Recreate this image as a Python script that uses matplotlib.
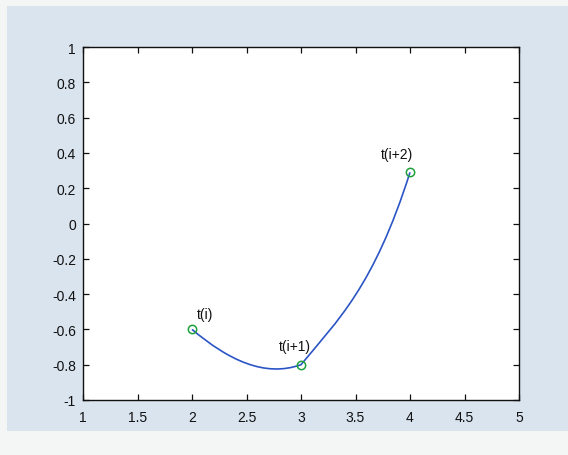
import matplotlib
matplotlib.use("Agg")
import matplotlib.pyplot as plt
from matplotlib.path import Path
from matplotlib.patches import PathPatch, Rectangle
from matplotlib.ticker import FuncFormatter, MultipleLocator

# Knots of the curve and the tangent slopes at each end of every segment
knot_x = [2.0, 3.0, 4.0]
knot_y = [-0.6, -0.8, 0.29]
slope_start = [-0.52, 0.75]   # slope leaving knot k into segment k
slope_end = [0.22, 1.95]      # slope arriving at knot k+1 from segment k
knot_labels = ["t(i)", "t(i+1)", "t(i+2)"]
label_x = [2.115, 2.945, 3.877]
label_y = [-0.51, -0.695, 0.395]

x_limits = (1, 5)
y_limits = (-1, 1)

plt.rcParams["font.family"] = ["Liberation Sans", "DejaVu Sans"]

fig = plt.figure(figsize=(5.68, 4.56), dpi=100, facecolor="#d9e4ef")
# paper margins around the figure window
paper = "#f4f6f6"
fig.patches.append(Rectangle((0, 0), 1, 24 / 456, transform=fig.transFigure,
                             facecolor=paper, edgecolor="none", zorder=0))
fig.patches.append(Rectangle((0, 0), 7 / 568, 1, transform=fig.transFigure,
                             facecolor=paper, edgecolor="none", zorder=0))
fig.patches.append(Rectangle((0, 1 - 7 / 456), 1, 7 / 456, transform=fig.transFigure,
                             facecolor=paper, edgecolor="none", zorder=0))

ax = fig.add_axes([83 / 568, 1 - 401 / 456, 436 / 568, 353 / 456])
ax.set_facecolor("white")

# Piecewise cubic curve built as Bezier segments in data coordinates
verts = [(knot_x[0], knot_y[0])]
codes = [Path.MOVETO]
for k in range(len(knot_x) - 1):
    h = knot_x[k + 1] - knot_x[k]
    c1 = (knot_x[k] + h / 3, knot_y[k] + slope_start[k] * h / 3)
    c2 = (knot_x[k + 1] - h / 3, knot_y[k + 1] - slope_end[k] * h / 3)
    verts += [c1, c2, (knot_x[k + 1], knot_y[k + 1])]
    codes += [Path.CURVE4, Path.CURVE4, Path.CURVE4]
ax.add_patch(PathPatch(Path(verts, codes), facecolor="none",
                       edgecolor="#2b55c6", linewidth=1.2, zorder=2))

ax.plot(knot_x, knot_y, linestyle="none", marker="o", markersize=6,
        markerfacecolor="none", markeredgecolor="#1fa03a", markeredgewidth=1.1,
        zorder=3)

for lx, ly, txt in zip(label_x, label_y, knot_labels):
    ax.text(lx, ly, txt, ha="center", va="center", fontsize=10, color="#111111")

ax.set_xlim(*x_limits)
ax.set_ylim(*y_limits)
ax.xaxis.set_major_locator(MultipleLocator(0.5))
ax.yaxis.set_major_locator(MultipleLocator(0.2))
fmt = FuncFormatter(lambda v, pos: "%g" % round(v, 6))
ax.xaxis.set_major_formatter(fmt)
ax.yaxis.set_major_formatter(fmt)
ax.tick_params(direction="in", length=4, width=0.9, top=True, right=True,
               labelsize=10, colors="#111111", pad=5)
ax.tick_params(axis="x", pad=7)
for s in ax.spines.values():
    s.set_linewidth(1.0)
    s.set_color("#111111")

fig.savefig("out.png", dpi=100, facecolor=fig.get_facecolor())
